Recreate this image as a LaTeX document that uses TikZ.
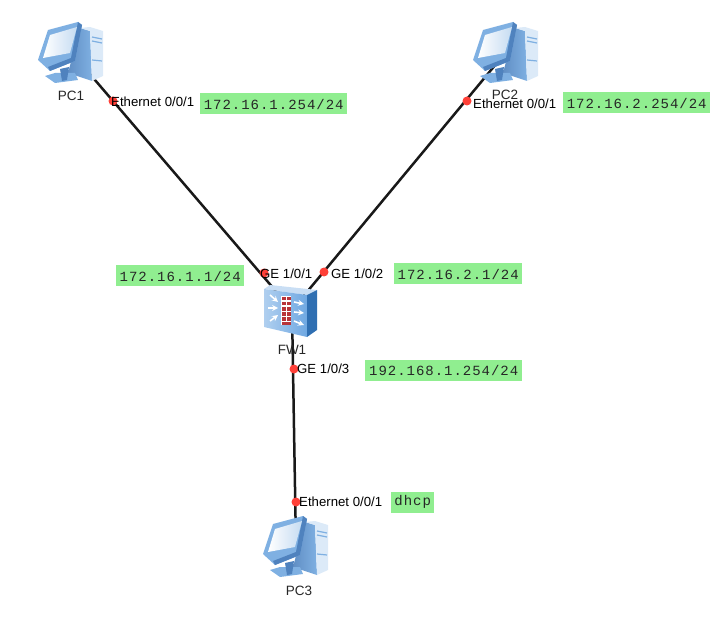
\documentclass[tikz,border=0pt]{standalone}
\usepackage{fontspec}
\setmainfont{Liberation Sans}
\newfontfamily\addrfont[LetterSpace=7]{Liberation Mono}
\definecolor{addrgreen}{HTML}{90EE90}
\definecolor{portred}{HTML}{FF4038}
\definecolor{pcdark}{HTML}{4F82BE}
\definecolor{pcmid}{HTML}{7FB0E2}
\definecolor{pclight}{HTML}{DCEAF8}
\definecolor{fwfront}{HTML}{6FA8E2}
\definecolor{fwside}{HTML}{2F6FB2}
\definecolor{fwbrick}{HTML}{B8343A}
\tikzset{
  device/.style={inner sep=0pt, minimum size=2pt},
  devname/.style={inner sep=0pt, font=\fontsize{13.5}{15}\selectfont, text=black!85},
  port/.style={inner sep=0pt, anchor=west, font=\fontsize{13.2}{15}\selectfont, text=black},
  addr/.style={fill=addrgreen, inner sep=0pt, minimum height=21pt, anchor=west,
    font=\addrfont\fontsize{14}{16}\selectfont, text=black!85},
  dot/.style={circle, fill=portred, inner sep=0pt, minimum size=9pt},
  link/.style={line width=2.5pt, black!90},
  flow/.style={-stealth, white, line width=1.6pt},
  pcicon/.pic={
    % tower
    \shade[left color=pcdark!90, right color=pcmid] (9,-24) -- (19,-21) -- (21,29) -- (-3,21) -- cycle;
    \fill[pclight] (9,-24) -- (19,-25) -- (32,-21) -- (32,24) -- (21,29) -- (19,-21) -- cycle;
    \draw[pcmid, line width=1.2pt] (21,-15) -- (31,-13) (21,-11) -- (31,-9) (21,8) -- (31,9);
    % stand
    \fill[pcmid] (-26,24) -- (-16,21) -- (4,21) -- (7,28) -- (-16,31) -- cycle;
    \fill[pcdark] (-11,17) -- (-2,15) -- (-4,28) -- (-9,29) -- cycle;
    % monitor
    \fill[pcmid] (-23,-22) -- (7,-30) -- (11,-27) -- (4,9) -- (-21,19) -- (-33,8) -- cycle;
    \fill[pcdark] (7,-30) -- (11,-27) -- (4,9) -- (-21,19) -- (-23,15) -- (0,6) -- cycle;
    \shade[left color=white, right color=pcmid!45] (-21,-17) -- (6,-25) -- (-1,1) -- (-28,6) -- cycle;
  },
  fwicon/.pic={
    \fill[pclight!80!pcmid] (-28,-21) -- (-22,-25) -- (25,-20) -- (15,-15) -- cycle;
    \shade[left color=fwfront!55, right color=fwfront] (-28,-21) -- (15,-15) -- (15,27) -- (-28,17) -- cycle;
    \fill[fwside] (15,-15) -- (25,-20) -- (25,20) -- (15,27) -- cycle;
    % brick wall
    \fill[white] (-11,-14) rectangle (-1,15);
    \foreach \y in {-13,-8,-3,2,7} {
      \fill[fwbrick] (-10.5,\y) rectangle (-6.5,\y+3.5);
      \fill[fwbrick] (-5.5,\y) rectangle (-1.5,\y+3.5);
    }
    \fill[fwbrick] (-10.5,11.5) rectangle (-1.5,14.5);
    % traffic arrows
    \draw[flow] (-22,-15) -- (-14,-8);
    \draw[flow] (-24,-2) -- (-14,-2);
    \draw[flow] (-22,11) -- (-14,5);
    \draw[flow] (2,-8) -- (12,-6);
    \draw[flow] (2,2) -- (12,3);
    \draw[flow] (2,11) -- (12,15);
  }
}
\begin{document}
\begin{tikzpicture}[x=1pt, y=-1pt]
\useasboundingbox (0,0) rectangle (720,620);
% devices
\node[device] (pc1) at (71,52) {};
\node[device] (pc2) at (506,52) {};
\node[device] (pc3) at (296,546) {};
\node[device] (fw1) at (292,310) {};
% links
\draw[link] (pc1) -- (fw1);
\draw[link] (pc2) -- (fw1);
\draw[link] (pc3) -- (fw1);
\pic at (pc1) {pcicon};
\pic at (pc2) {pcicon};
\pic at (pc3) {pcicon};
\pic at (fw1) {fwicon};
\node[devname] (pc1name) at (71,96) {PC1};
\node[devname] (pc2name) at (505,95) {PC2};
\node[devname] (pc3name) at (299,591) {PC3};
\node[devname] (fw1name) at (292,350) {FW1};
% ports
\node[dot] (p1) at (113,101) {};
\node[dot] (p2) at (467,101) {};
\node[dot] (p3) at (264,273) {};
\node[dot] (p4) at (324,272) {};
\node[dot] (p5) at (294,369) {};
\node[dot] (p6) at (296,502) {};
\node[port] (p1name) at (111,102) {Ethernet 0/0/1};
\node[port] (p2name) at (473,104) {Ethernet 0/0/1};
\node[port] (p3name) at (260,274) {GE 1/0/1};
\node[port] (p4name) at (331,274) {GE 1/0/2};
\node[port] (p5name) at (297,369) {GE 1/0/3};
\node[port] (p6name) at (299,502) {Ethernet 0/0/1};
% addresses
\node[addr, minimum width=147pt] (a1) at (200,104) {172.16.1.254/24};
\node[addr, minimum width=147pt] (a2) at (563,103) {172.16.2.254/24};
\node[addr, minimum width=128pt] (a3) at (116,276) {172.16.1.1/24};
\node[addr, minimum width=128pt] (a4) at (394,274) {172.16.2.1/24};
\node[addr, minimum width=157pt] (a5) at (365,370) {192.168.1.254/24};
\node[addr, minimum width=43pt] (a6) at (391,502) {dhcp};
\end{tikzpicture}
\end{document}
